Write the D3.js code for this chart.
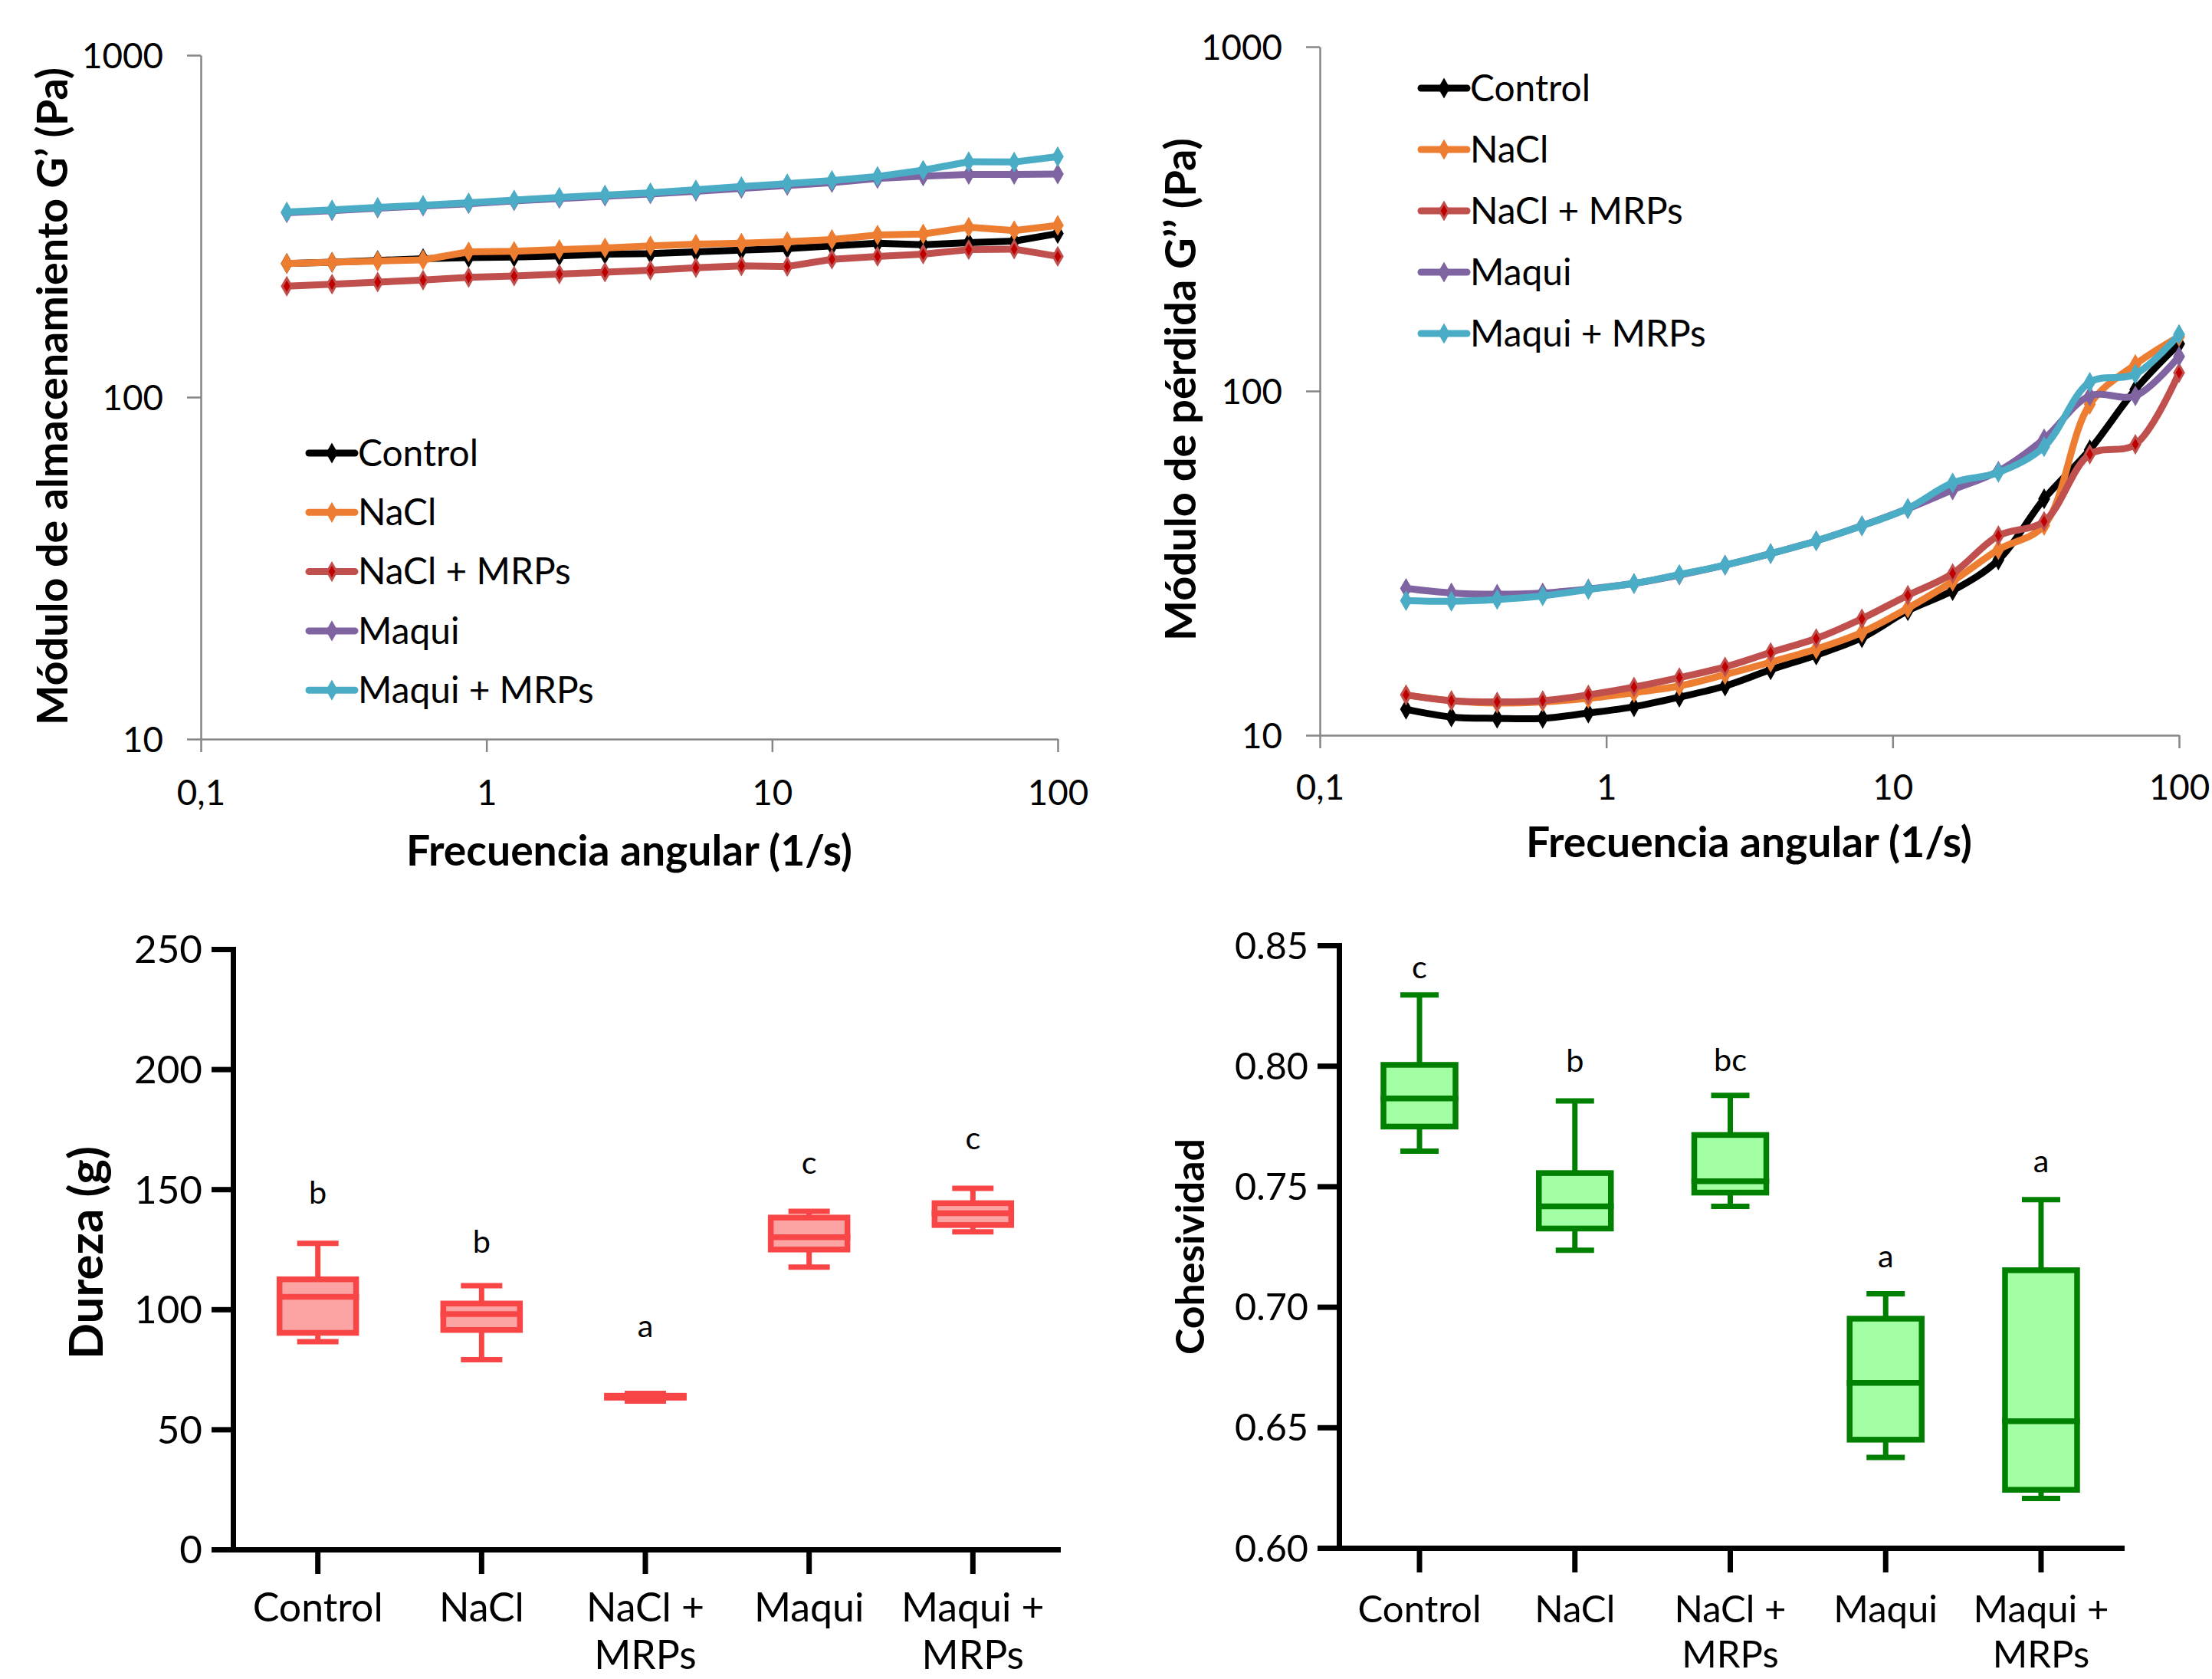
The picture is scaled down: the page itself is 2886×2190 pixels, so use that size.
<!DOCTYPE html>
<html><head><meta charset="utf-8">
<script src="https://cdn.jsdelivr.net/npm/d3@7"></script>
<style>body{margin:0;background:#fff}svg{display:block}</style>
</head><body>
<svg id="chart" width="2886" height="2190"></svg>
<script>
// ---------------- DATA ----------------
const freq = [0.2, 0.288, 0.416, 0.6, 0.866, 1.25, 1.8, 2.6, 3.75, 5.41, 7.81, 11.3, 16.2, 23.4, 33.8, 48.8, 70.4, 100];
const seriesNames = ["Control", "NaCl", "NaCl + MRPs", "Maqui", "Maqui + MRPs"];
const seriesColors = ["#000000", "#ED7D31", "#C0504D", "#8064A2", "#4BACC6"];
const markerFills = ["#000000", "#ED7D31", "#C00000", "#8064A2", "#4BACC6"];

// Storage modulus G' (Pa)
const gpControl   = [246, 248, 251, 254, 256, 257, 259, 262, 263, 266, 269, 272, 277, 282, 279, 283, 286, 301];
const gpNaCl      = [246, 248, 250, 252, 266, 267, 270, 273, 277, 280, 282, 285, 289, 298, 300, 314, 307, 318];
const gpNaClMRPs  = [211, 214, 217, 220, 224, 226, 229, 232, 235, 239, 242, 241, 253, 258, 262, 270, 271, 258];
const gpMaqui     = [346, 351, 357, 362, 368, 375, 381, 387, 393, 400, 408, 416, 424, 436, 443, 448, 448, 449];
const gpMaquiMRPs = [348, 353, 359, 364, 370, 377, 384, 390, 396, 404, 413, 421, 430, 442, 461, 488, 487, 505];

// Loss modulus G'' (Pa)
const gppControl   = [11.9, 11.3, 11.2, 11.2, 11.6, 12.1, 12.9, 13.9, 15.5, 17.1, 19.2, 23.0, 26.3, 32.3, 48.6, 67.5, 101, 137];
const gppNaCl      = [13.1, 12.6, 12.4, 12.5, 12.8, 13.3, 13.9, 15.0, 16.3, 17.8, 19.9, 23.4, 28.0, 34.6, 40.7, 91.5, 119.5, 144];
const gppNaClMRPs  = [13.1, 12.6, 12.5, 12.6, 13.1, 13.8, 14.7, 15.8, 17.4, 19.1, 21.8, 25.5, 29.5, 38.0, 41.8, 65.5, 70.0, 113];
const gppMaqui     = [26.7, 25.9, 25.7, 25.9, 26.6, 27.6, 29.2, 31.2, 33.7, 36.7, 40.6, 45.5, 51.6, 58.5, 72.6, 96.8, 96.8, 126];
const gppMaquiMRPs = [24.6, 24.5, 24.8, 25.4, 26.5, 27.6, 29.3, 31.2, 33.7, 36.7, 40.6, 45.6, 54.1, 58.0, 68.9, 106, 112, 146];

const logYTicks = [10, 100, 1000];
const logYTickLabels = ["10", "100", "1000"];
const logXTicks = [0.1, 1, 10, 100];
const logXTickLabels = ["0,1", "1", "10", "100"];

// Hardness (g) box plots
const durezaMin    = [86.5, 79.0, 61.8, 117.6, 132.3];
const durezaQ1     = [90.2, 91.4, 63.2, 124.9, 135.1];
const durezaMedian = [105.2, 98.0, 63.6, 130.0, 140.0];
const durezaQ3     = [112.5, 102.4, 64.0, 138.2, 144.2];
const durezaMax    = [127.5, 109.8, 65.0, 140.8, 150.4];
const durezaLetters = ["b", "b", "a", "c", "c"];
const durezaLetterAt = [144, 123.6, 88.4, 156.4, 166.7];
const durezaTicks = [0, 50, 100, 150, 200, 250];

// Cohesiveness box plots
const cohesMin    = [0.7646, 0.7235, 0.7417, 0.6375, 0.6205];
const cohesQ1     = [0.7748, 0.7325, 0.7474, 0.6449, 0.6241];
const cohesMedian = [0.7865, 0.7417, 0.7521, 0.6685, 0.6526];
const cohesQ3     = [0.8004, 0.7555, 0.7713, 0.6951, 0.7152];
const cohesMax    = [0.8294, 0.7854, 0.7877, 0.7054, 0.7445];
const cohesLetters = ["c", "b", "bc", "a", "a"];
const cohesLetterAt = [0.8363, 0.7975, 0.7978, 0.7164, 0.7559];
const cohesTicks = [0.60, 0.65, 0.70, 0.75, 0.80, 0.85];
const cohesTickLabels = ["0.60", "0.65", "0.70", "0.75", "0.80", "0.85"];

// ---------------- DRAWING ----------------
const FONT = "Lato, 'Open Sans', sans-serif";
const svg = d3.select("#chart");
svg.append("rect").attr("width", 2886).attr("height", 2190).attr("fill", "#fff");

const measurer = svg.append("text").attr("visibility", "hidden").attr("x", 0).attr("y", -100);
function sizeFor(str, weight, targetW) {
  measurer.attr("font-family", FONT).attr("font-weight", weight).attr("font-size", 100).text(str);
  const w = measurer.node().getComputedTextLength();
  return 100 * targetW / w;
}

const diamond = d3.symbol().type(d3.symbolDiamond).size(130);

function rheoPanel(cfg) {
  const x = d3.scaleLog().domain([0.1, 100]).range([cfg.x0, cfg.x1]);
  const y = d3.scaleLog().domain([10, 1000]).range([cfg.y0, cfg.y1]);
  const g = svg.append("g");
  const tickFs = sizeFor("1000", 400, 106);

  const yAx = g.append("g").attr("transform", `translate(${cfg.x0},0)`)
    .call(d3.axisLeft(y).tickValues(logYTicks).tickFormat((d, i) => logYTickLabels[i])
      .tickSize(18).tickSizeOuter(0).tickPadding(31));
  const xAx = g.append("g").attr("transform", `translate(0,${cfg.y0})`)
    .call(d3.axisBottom(x).tickValues(logXTicks).tickFormat((d, i) => logXTickLabels[i])
      .tickSize(17).tickSizeOuter(0));
  [yAx, xAx].forEach(a => {
    a.select(".domain").attr("stroke", "#868686").attr("stroke-width", 2.5);
    a.selectAll(".tick line").attr("stroke", "#868686").attr("stroke-width", 2.5);
    a.selectAll("text").attr("font-family", FONT).attr("font-size", tickFs).attr("fill", "#000");
  });
  yAx.selectAll("text").attr("dy", "0.35em");
  xAx.selectAll("text").attr("y", cfg.xLabelOff).attr("dy", "0.35em");

  const line = d3.line().x((d, i) => x(freq[i])).y(d => y(d)).curve(cfg.curve);
  cfg.data.forEach((vals, k) => {
    g.append("path").attr("d", line(vals)).attr("fill", "none")
      .attr("stroke", seriesColors[k]).attr("stroke-width", 9)
      .attr("stroke-linejoin", "round").attr("stroke-linecap", "round");
    g.append("g").selectAll("path").data(vals).join("path")
      .attr("transform", (d, i) => `translate(${x(freq[i])},${y(d)})`)
      .attr("d", diamond).attr("fill", markerFills[k])
      .attr("stroke", seriesColors[k]).attr("stroke-width", 3);
  });

  // legend
  const legFs = sizeFor("Control", 400, 157);
  seriesNames.forEach((name, k) => {
    const ly = cfg.legY + k * cfg.legStep;
    const lg = g.append("g");
    lg.append("line").attr("x1", cfg.legX).attr("x2", cfg.legX + 60).attr("y1", ly).attr("y2", ly)
      .attr("stroke", seriesColors[k]).attr("stroke-width", 9).attr("stroke-linecap", "round");
    lg.append("path").attr("transform", `translate(${cfg.legX + 30},${ly})`).attr("d", diamond)
      .attr("fill", markerFills[k]).attr("stroke", seriesColors[k]).attr("stroke-width", 3);
    lg.append("text").attr("x", cfg.legX + 64).attr("y", ly).attr("dy", "0.35em")
      .attr("font-family", FONT).attr("font-size", legFs).text(name);
  });

  // axis titles
  const xt = "Frecuencia angular (1/s)";
  g.append("text").attr("x", cfg.xTitle[0]).attr("y", cfg.xTitle[1]).attr("dy", "0.35em")
    .attr("text-anchor", "middle").attr("font-family", FONT).attr("font-weight", 700)
    .attr("font-size", sizeFor(xt, 700, 582)).text(xt);
  g.append("text").attr("transform", `translate(${cfg.yTitle[0]},${cfg.yTitle[1]}) rotate(-90)`)
    .attr("dy", "0.35em").attr("text-anchor", "middle").attr("font-family", FONT).attr("font-weight", 700)
    .attr("font-size", sizeFor(cfg.yTitleText, 700, cfg.yTitleLen)).text(cfg.yTitleText);
}

rheoPanel({
  x0: 262, x1: 1380, y0: 964, y1: 72, xLabelOff: 70,
  curve: d3.curveLinear,
  data: [gpControl, gpNaCl, gpNaClMRPs, gpMaqui, gpMaquiMRPs],
  legX: 403, legY: 591, legStep: 77.3,
  xTitle: [821, 1110], yTitle: [69, 517],
  yTitleText: "Módulo de almacenamiento G’ (Pa)", yTitleLen: 858
});
rheoPanel({
  x0: 1722, x1: 2843, y0: 959, y1: 61, xLabelOff: 68,
  curve: d3.curveCatmullRom.alpha(0.5),
  data: [gppControl, gppNaCl, gppNaClMRPs, gppMaqui, gppMaquiMRPs],
  legX: 1854, legY: 115, legStep: 80,
  xTitle: [2282, 1099], yTitle: [1540, 508],
  yTitleText: "Módulo de pérdida G’’ (Pa)", yTitleLen: 656
});

function boxPanel(cfg) {
  const x = d3.scaleBand().domain(seriesNames).range([cfg.x0, cfg.x1]).paddingInner(0).paddingOuter(0.018);
  const y = d3.scaleLinear().domain(cfg.domain).range([cfg.y0, cfg.y1]);
  const g = svg.append("g");
  const cx = d => x(d) + x.bandwidth() / 2;

  const yAx = g.append("g").attr("transform", `translate(${cfg.x0},0)`)
    .call(d3.axisLeft(y).tickValues(cfg.ticks).tickFormat((d, i) => cfg.tickLabels[i])
      .tickSize(28).tickSizeOuter(0).tickPadding(12));
  const xAx = g.append("g").attr("transform", `translate(0,${cfg.y0})`)
    .call(d3.axisBottom(x).tickSize(32).tickSizeOuter(0));
  [yAx, xAx].forEach(a => {
    a.select(".domain").attr("stroke", "#000").attr("stroke-width", 7).attr("stroke-linecap", "square");
    a.selectAll(".tick line").attr("stroke", "#000").attr("stroke-width", 7);
    a.selectAll("text").attr("font-family", FONT).attr("fill", "#000");
  });
  yAx.selectAll("text").attr("font-size", sizeFor(cfg.tickRef, 400, cfg.tickRefW)).attr("dy", "0.35em");
  const catFs = sizeFor("Control", 400, cfg.catW);
  xAx.selectAll("text").attr("font-size", catFs).attr("y", 0).attr("dy", null).each(function (d) {
    const parts = d.includes(" + ") ? [d.split(" + ")[0] + " +", d.split(" + ")[1]] : [d];
    const t = d3.select(this).text(null);
    parts.forEach((p, j) => t.append("tspan").attr("x", 0).attr("y", cfg.catLines[j]).attr("dy", "0.35em").text(p));
  });

  const halfBox = cfg.boxW / 2, halfCap = cfg.capW / 2;
  seriesNames.forEach((name, i) => {
    const c = cx(name);
    const bg = g.append("g").attr("stroke", cfg.stroke).attr("stroke-width", 7);
    bg.append("line").attr("x1", c).attr("x2", c).attr("y1", y(cfg.max[i])).attr("y2", y(cfg.q3[i]));
    bg.append("line").attr("x1", c).attr("x2", c).attr("y1", y(cfg.q1[i])).attr("y2", y(cfg.min[i]));
    bg.append("line").attr("x1", c - halfCap).attr("x2", c + halfCap).attr("y1", y(cfg.max[i])).attr("y2", y(cfg.max[i]));
    bg.append("line").attr("x1", c - halfCap).attr("x2", c + halfCap).attr("y1", y(cfg.min[i])).attr("y2", y(cfg.min[i]));
    bg.append("rect").attr("x", c - halfBox).attr("width", cfg.boxW)
      .attr("y", y(cfg.q3[i])).attr("height", Math.max(0, y(cfg.q1[i]) - y(cfg.q3[i])))
      .attr("fill", cfg.fill).attr("stroke-width", 7.5);
    bg.append("line").attr("x1", c - halfBox - 3.75).attr("x2", c + halfBox + 3.75)
      .attr("y1", y(cfg.median[i])).attr("y2", y(cfg.median[i])).attr("stroke-width", 7.5);
    g.append("text").attr("x", c).attr("y", y(cfg.letterAt[i])).attr("text-anchor", "middle")
      .attr("font-family", FONT).attr("font-size", sizeFor("bc", 400, 43)).text(cfg.letters[i]);
  });

  g.append("text").attr("transform", `translate(${cfg.yTitle[0]},${cfg.yTitle[1]}) rotate(-90)`)
    .attr("dy", "0.35em").attr("text-anchor", "middle").attr("font-family", FONT).attr("font-weight", 700)
    .attr("font-size", sizeFor(cfg.yTitleText, 700, cfg.yTitleLen)).text(cfg.yTitleText);
}

boxPanel({
  x0: 304, x1: 1380, y0: 2021, y1: 1238, domain: [0, 250],
  ticks: durezaTicks, tickLabels: durezaTicks.map(String), tickRef: "250", tickRefW: 89,
  catW: 170, catLines: [76, 138],
  min: durezaMin, q1: durezaQ1, median: durezaMedian, q3: durezaQ3, max: durezaMax,
  letters: durezaLetters, letterAt: durezaLetterAt,
  boxW: 100, capW: 54, stroke: "#F84545", fill: "#FCA3A3",
  yTitle: [112, 1634], yTitleText: "Dureza (g)", yTitleLen: 278
});
boxPanel({
  x0: 1747, x1: 2768, y0: 2019, y1: 1233, domain: [0.6, 0.85],
  ticks: cohesTicks, tickLabels: cohesTickLabels, tickRef: "0.85", tickRefW: 96,
  catW: 161, catLines: [80, 139],
  min: cohesMin, q1: cohesQ1, median: cohesMedian, q3: cohesQ3, max: cohesMax,
  letters: cohesLetters, letterAt: cohesLetterAt,
  boxW: 94, capW: 50, stroke: "#008000", fill: "#A3FFA3",
  yTitle: [1553, 1626], yTitleText: "Cohesividad", yTitleLen: 282
});
measurer.remove();
</script>
</body></html>
